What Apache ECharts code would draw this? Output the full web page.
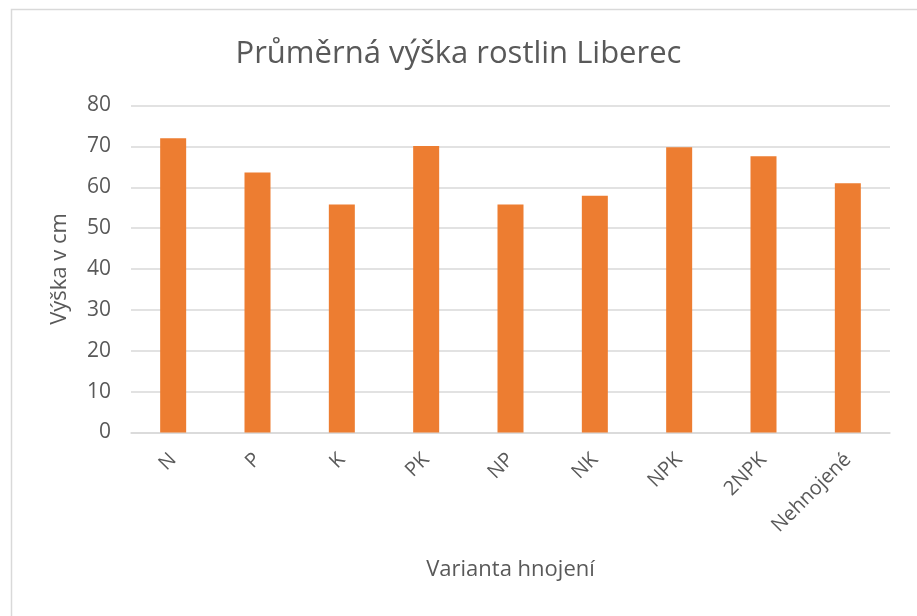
<!DOCTYPE html>
<html>
<head>
<meta charset="utf-8">
<script src="https://cdn.jsdelivr.net/npm/echarts@6/dist/echarts.min.js"></script>
<style>
  html, body { margin: 0; padding: 0; background: #fff; }
  #chart { width: 917px; height: 616px; }
</style>
</head>
<body>
<div id="chart"></div>
<script>
// varianty hnojení
var categories = ["N", "P", "K", "PK", "NP", "NK", "NPK", "2NPK", "Nehnojené"];
// průměrná výška v cm
var heights = [72, 63.6, 55.8, 70.1, 55.8, 57.9, 69.8, 67.6, 61];

var font = "'Open Sans', 'Noto Sans', sans-serif";
var textColor = "#595959";

var chart = echarts.init(document.getElementById("chart"));
chart.setOption({
  animation: false,
  // rámeček grafu
  graphic: [{
    type: "rect",
    left: 9, top: 7,
    shape: { width: 1000, height: 700 },
    style: { fill: "none", stroke: "#d9d9d9", lineWidth: 1.5 },
    z: -1
  }],
  title: {
    text: "Průměrná výška rostlin Liberec",
    left: "center",
    top: 34,
    textStyle: { fontFamily: font, fontSize: 31, fontWeight: "normal", color: textColor }
  },
  grid: { left: 131, right: 27, top: 105.5, bottom: 183.5 },
  xAxis: {
    type: "category",
    data: categories,
    name: "Varianta hnojení",
    nameLocation: "middle",
    nameGap: 126,
    nameTextStyle: { fontFamily: font, fontSize: 22, color: textColor },
    axisLine: { lineStyle: { color: "#d9d9d9", width: 1.5 } },
    axisTick: { show: false },
    axisLabel: { rotate: 45, margin: 24, fontFamily: font, fontSize: 20, color: textColor }
  },
  yAxis: {
    type: "value",
    min: 0, max: 80, interval: 10,
    name: "Výška v cm",
    nameLocation: "middle",
    nameGap: 60,
    nameTextStyle: { fontFamily: font, fontSize: 22, color: textColor },
    axisLabel: { margin: 20, fontFamily: font, fontSize: 21, color: textColor },
    splitLine: { lineStyle: { color: "#d9d9d9", width: 1.5 } }
  },
  series: [{
    type: "bar",
    data: heights,
    barWidth: 26,
    itemStyle: { color: "#ED7D31" }
  }]
});
</script>
</body>
</html>
